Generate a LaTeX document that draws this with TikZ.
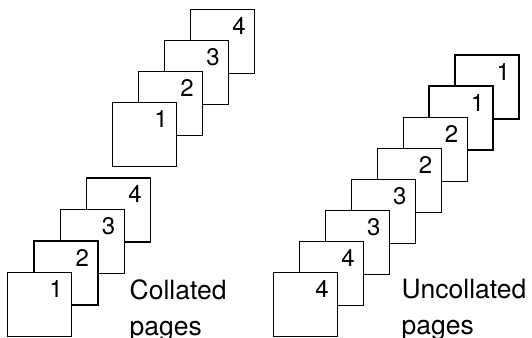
\documentclass[tikz,border=0pt]{standalone}
\usepackage{fontspec}
\setmainfont{TeX Gyre Heros}
\usetikzlibrary{positioning}

\begin{document}
\begin{tikzpicture}[x=1pt,y=-1pt,line width=1.4pt,
  sheet/.style={rectangle,draw,fill=white,minimum size=64pt,inner sep=0pt,anchor=north west},
  num/.style={anchor=north east,inner sep=0pt,font=\fontsize{24}{24}\selectfont,xshift=-9pt,yshift=-8pt},
  caption/.style={anchor=base west,align=left,inner sep=0pt,font=\fontsize{26.5}{36}\selectfont}]
\useasboundingbox (0,0) rectangle (532,337);
% --- collated, upper stack ---
\foreach \k/\d in {3/4,2/3,1/2,0/1} {
  \node[sheet] (up\k) at ({112+26*\k},{102-31*\k}) {};
  \node[num] (upnum\k) at (up\k.north east) {\d};
}
% --- collated, lower stack ---
\foreach \k/\d in {3/4,2/3,1/2,0/1} {
  \node[sheet] (low\k) at ({7+26.3*\k},{272-31.6*\k}) {};
  \node[num] (lownum\k) at (low\k.north east) {\d};
}
\node[caption] (coll) at (129,335) {Collated\\pages};
% --- uncollated stack ---
\foreach \k/\d in {7/1,6/1,5/2,4/2,3/3,2/3,1/4,0/4} {
  \node[sheet] (unc\k) at ({273+25.9*\k},{272-31.1*\k}) {};
  \node[num] (uncnum\k) at (unc\k.north east) {\d};
}
\node[caption] (uncoll) at (401,334) {Uncollated\\pages};
\end{tikzpicture}
\end{document}
